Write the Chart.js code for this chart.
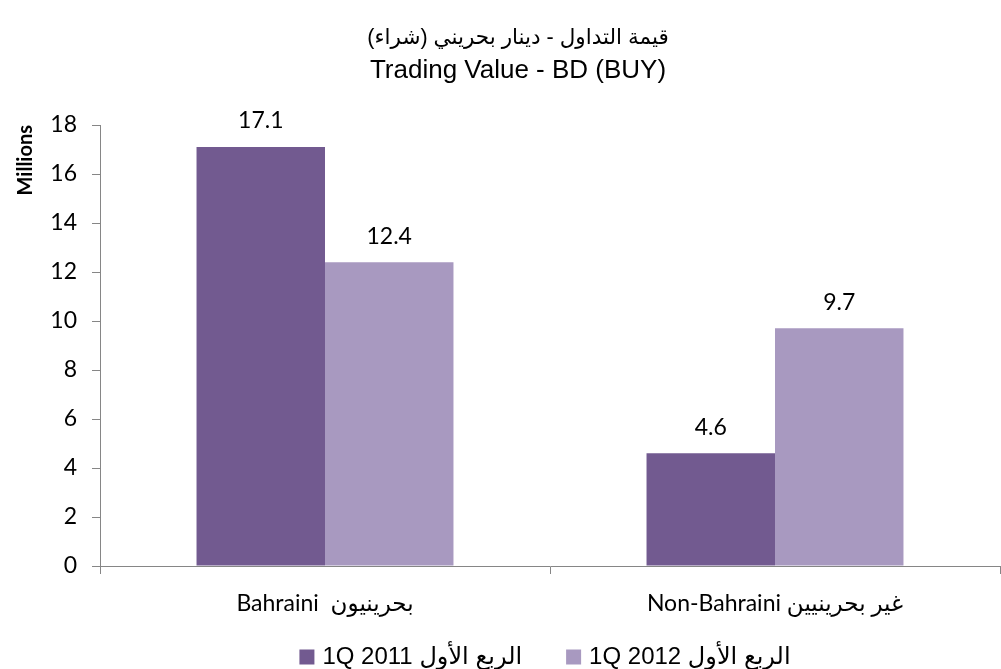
<!DOCTYPE html>
<html>
<head>
<meta charset="utf-8">
<script src="https://cdn.jsdelivr.net/npm/chart.js@4.4.1/dist/chart.umd.min.js"></script>
<style>
html,body{margin:0;padding:0;background:#fff;}
#wrap{width:1001px;height:669px;position:relative;}
</style>
</head>
<body>
<div id="wrap"><canvas id="c" width="1001" height="669"></canvas></div>
<script>
const categories = ["Bahraini  بحرينيون", "Non-Bahraini غير بحرينيين"];
const series1Label = "1Q 2011 الربع الأول";
const series2Label = "1Q 2012 الربع الأول";
const series1Values = [17.1, 4.6];
const series2Values = [12.4, 9.7];
const yTicks = [0, 2, 4, 6, 8, 10, 12, 14, 16, 18];
const titleArabic = "قيمة التداول - دينار بحريني (شراء)";
const titleEnglish = "Trading Value - BD (BUY)";
const yAxisTitle = "Millions";

const darkPurple = "#725a90";
const lightPurple = "#a899c0";
const axisGray = "#868686";
const tickFont = "Lato, 'DejaVu Sans', sans-serif";

const extrasPlugin = {
  id: 'extras',
  afterDatasetsDraw(chart) {
    const ctx = chart.ctx;
    ctx.save();
    ctx.fillStyle = '#000';
    ctx.font = "23px " + tickFont;
    ctx.textAlign = 'center';
    ctx.textBaseline = 'middle';
    chart.data.datasets.forEach((ds, i) => {
      const meta = chart.getDatasetMeta(i);
      meta.data.forEach((bar, j) => {
        ctx.fillText(ds.data[j].toFixed(1), bar.x, bar.y - 26);
      });
    });
    ctx.restore();
  },
  afterDraw(chart) {
    const ctx = chart.ctx;
    ctx.save();
    ctx.fillStyle = '#000';
    ctx.textAlign = 'center';
    ctx.textBaseline = 'middle';
    ctx.font = "21.5px 'Liberation Sans', Arial, 'DejaVu Sans', sans-serif";
    ctx.direction = 'rtl';
    ctx.fillText(titleArabic, 518, 38);
    ctx.direction = 'ltr';
    ctx.font = "26px 'Liberation Sans', Arial, sans-serif";
    ctx.fillText(titleEnglish, 518, 71);

    // legend
    const items = [
      {label: series1Label, color: darkPurple},
      {label: series2Label, color: lightPurple}
    ];
    ctx.font = "24px 'Liberation Sans', Arial, 'DejaVu Sans', sans-serif";
    const box = 15, gap = 8, spacing = 44;
    const widths = items.map(it => ctx.measureText(it.label).width);
    const total = widths.reduce((a, w) => a + box + gap + w, 0) + spacing;
    const cx = (chart.chartArea.left + chart.chartArea.right) / 2 - 5;
    let x = cx - total / 2;
    const y = 657;
    ctx.textAlign = 'left';
    items.forEach((it, i) => {
      ctx.fillStyle = it.color;
      ctx.fillRect(x, y - box / 2, box, box);
      ctx.fillStyle = '#000';
      ctx.fillText(it.label, x + box + gap, y);
      x += box + gap + widths[i] + spacing;
    });
    ctx.restore();
  }
};

new Chart(document.getElementById('c'), {
  type: 'bar',
  data: {
    labels: categories,
    datasets: [
      {label: series1Label, data: series1Values, backgroundColor: darkPurple, categoryPercentage: 0.571, barPercentage: 1.0},
      {label: series2Label, data: series2Values, backgroundColor: lightPurple, categoryPercentage: 0.571, barPercentage: 1.0}
    ]
  },
  options: {
    responsive: false,
    animation: false,
    layout: {padding: {top: 125, right: 1, left: 0, bottom: 0}},
    plugins: {
      legend: {display: false},
      title: {display: false},
      tooltip: {enabled: false}
    },
    scales: {
      x: {
        grid: {display: true, drawOnChartArea: false, drawTicks: true, tickLength: 8, color: axisGray, offset: true},
        border: {display: true, color: axisGray, width: 1},
        ticks: {color: '#000', font: {family: tickFont, size: 23}, padding: 16, maxRotation: 0},
        afterFit(scale) { scale.height = 103; }
      },
      y: {
        min: 0, max: 18,
        afterBuildTicks(scale) { scale.ticks = yTicks.map(v => ({value: v})); },
        grid: {display: true, drawOnChartArea: false, drawTicks: true, tickLength: 8, color: axisGray},
        border: {display: true, color: axisGray, width: 1},
        ticks: {color: '#000', font: {family: tickFont, size: 23}, padding: 15},
        title: {display: true, text: yAxisTitle, align: 'end', color: '#000', font: {family: tickFont, size: 20, weight: 'bold'}, padding: {top: 14, bottom: 0}},
        afterFit(scale) { scale.width = 100; }
      }
    }
  },
  plugins: [extrasPlugin]
});
</script>
</body>
</html>
